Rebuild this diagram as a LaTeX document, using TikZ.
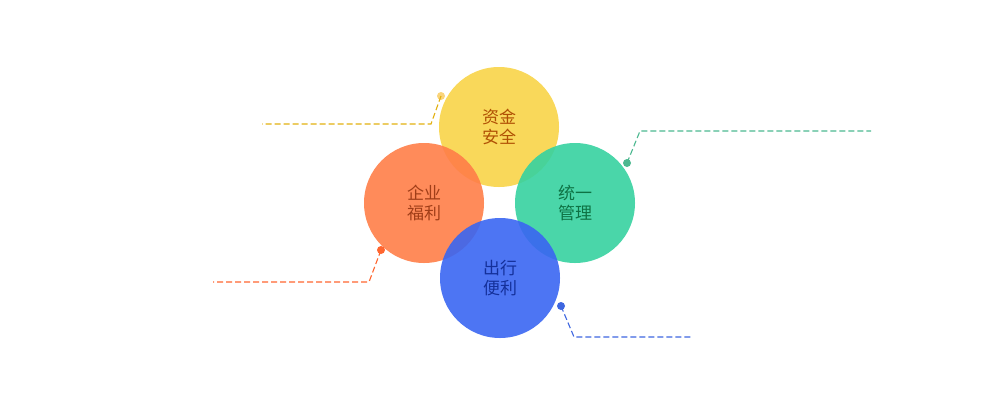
\documentclass[tikz,border=0pt]{standalone}
\usepackage{fontspec}
\newfontfamily\cjk{Noto Sans CJK SC}
\definecolor{cy}{HTML}{F8D448}
\definecolor{co}{HTML}{FF7E48}
\definecolor{cg}{HTML}{36D2A0}
\definecolor{cb}{HTML}{3A66F2}
\definecolor{ty}{HTML}{B05004}
\definecolor{to}{HTML}{A03E18}
\definecolor{tg}{HTML}{0E7244}
\definecolor{tb}{HTML}{14309A}
\definecolor{ly}{HTML}{E2B010}
\definecolor{dy}{HTML}{FAD47A}
\definecolor{lo}{HTML}{FF6630}
\definecolor{lg}{HTML}{4CB890}
\definecolor{lb}{HTML}{3E66E0}
\begin{document}
\begin{tikzpicture}[x=1pt,y=-1pt,
  bub/.style={circle,minimum size=120pt,inner sep=0pt,fill opacity=0.9,text opacity=1,align=center,font=\cjk\fontsize{17}{20}\selectfont},
  lead/.style={dash pattern=on 6pt off 3pt,line width=1.1pt},
  dotm/.style={circle,inner sep=0pt,minimum size=8pt}]
\useasboundingbox (0,0) rectangle (1000,408);
\node[bub,fill=cy,text=ty] (y) at (499,127) {资金\\安全};
\node[bub,fill=co,text=to] (o) at (424,203) {企业\\福利};
\node[bub,fill=cg,text=tg] (g) at (575,203) {统一\\管理};
\node[bub,fill=cb,text=tb] (b) at (500,278) {出行\\便利};
% leaders
\node[dotm,fill=dy] (yd) at (441,96) {};
\coordinate (yk) at (431,124);
\coordinate (ye) at (262,124);
\draw[lead,ly] (yd.center) -- (yk) -- (ye);
\node[dotm,fill=lg] (gd) at (627,163) {};
\coordinate (gk) at (640,131);
\coordinate (ge) at (871,131);
\draw[lead,lg] (gd.center) -- (gk) -- (ge);
\node[dotm,fill=lo] (od) at (381,250) {};
\coordinate (ok) at (369,282);
\coordinate (oe) at (213,282);
\draw[lead,lo] (od.center) -- (ok) -- (oe);
\node[dotm,fill=lb] (bd) at (561,306) {};
\coordinate (bk) at (574,337);
\coordinate (be) at (693,337);
\draw[lead,lb] (bd.center) -- (bk) -- (be);
\end{tikzpicture}
\end{document}
